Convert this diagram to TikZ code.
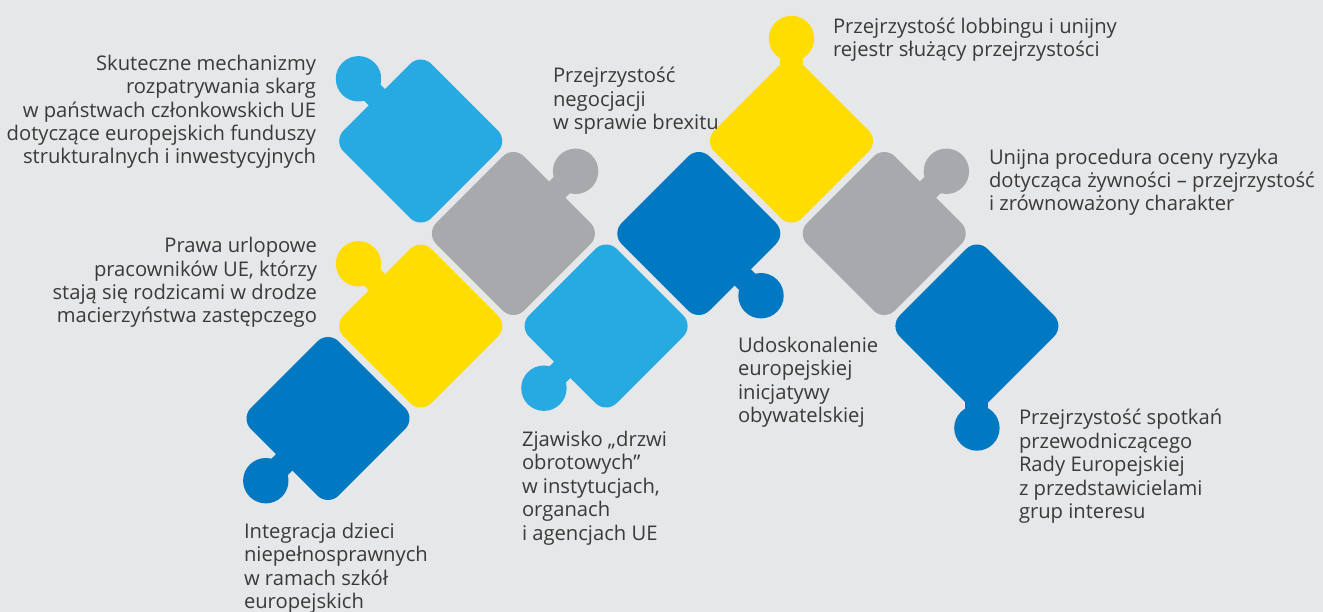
\documentclass[tikz,border=0pt]{standalone}
\usepackage{fontspec}
\setmainfont{Open Sans}
\definecolor{bg}{HTML}{E6E7E8}
\definecolor{lblue}{HTML}{27AAE1}
\definecolor{pgray}{HTML}{A7A9AC}
\definecolor{pyellow}{HTML}{FFDD00}
\definecolor{dblue}{HTML}{0079C2}
\definecolor{txt}{HTML}{3A3A3A}
\newcommand\pzpiece[5]{%
  \fill[#3, rounded corners=15pt] (#1-43.85,#2-43.85) -- (#1,#2-87.7) -- (#1+87.7,#2) -- (#1,#2+87.7) -- (#1-87.7,#2) -- cycle;
  \draw[#3, line width=23pt] (#1,#2) -- (#1+#4,#2+#5);
  \fill[#3] (#1+#4,#2+#5) circle[radius=22.7pt];
}
\begin{document}
\begin{tikzpicture}[x=1pt,y=-1pt,
  lbl/.style={inner sep=0pt, outer sep=0pt, font=\fontsize{20.2}{23.4}\selectfont, text=txt}]
\fill[bg] (0,0) rectangle (1323,612);
\useasboundingbox (0,0) rectangle (1323,612);
% pieces
\pzpiece{420.7}{141}{lblue}{-62.2}{-62.2}
\pzpiece{513.4}{233.5}{pgray}{62.2}{-62.2}
\pzpiece{420.7}{326}{pyellow}{-62.2}{-62.2}
\pzpiece{328}{418.5}{dblue}{-62.2}{62.2}
\pzpiece{606.1}{326}{lblue}{-62.2}{62.2}
\pzpiece{698.8}{233.5}{dblue}{62.2}{62.2}
\pzpiece{791.5}{141}{pyellow}{0}{-102.5}
\pzpiece{884.2}{233.5}{pgray}{62.2}{-62.2}
\pzpiece{976.9}{326}{dblue}{0}{102}
% labels (anchored at the baseline of their last line)
\node[lbl, align=right, anchor=base east] (t1) at (316,164) {Skuteczne mechanizmy\\rozpatrywania skarg\\w państwach członkowskich UE\\dotyczące europejskich funduszy\\strukturalnych i inwestycyjnych};
\node[lbl, align=right, anchor=base east] (t2) at (317,323) {Prawa urlopowe\\pracowników UE, którzy\\stają się rodzicami w drodze\\macierzyństwa zastępczego};
\node[lbl, align=left, anchor=base west] (t3) at (553,129.5) {Przejrzystość\\negocjacji\\w sprawie brexitu};
\node[lbl, align=left, anchor=base west] (t4) at (833,56.5) {Przejrzystość lobbingu i unijny\\rejestr służący przejrzystości};
\node[lbl, align=left, anchor=base west] (t5) at (989,211) {Unijna procedura oceny ryzyka\\dotycząca żywności – przejrzystość\\i zrównoważony charakter};
\node[lbl, align=left, anchor=base west] (t6) at (738,422.5) {Udoskonalenie\\europejskiej\\inicjatywy\\obywatelskiej};
\node[lbl, align=left, anchor=base west] (t7) at (1019,518.5) {Przejrzystość spotkań\\przewodniczącego\\Rady Europejskiej\\z przedstawicielami\\grup interesu};
\node[lbl, align=left, anchor=base west] (t8) at (522,540) {Zjawisko „drzwi\\obrotowych”\\w instytucjach,\\organach\\i agencjach UE};
\node[lbl, align=left, anchor=base west] (t9) at (244,608.5) {Integracja dzieci\\niepełnosprawnych\\w ramach szkół\\europejskich};
\end{tikzpicture}
\end{document}
